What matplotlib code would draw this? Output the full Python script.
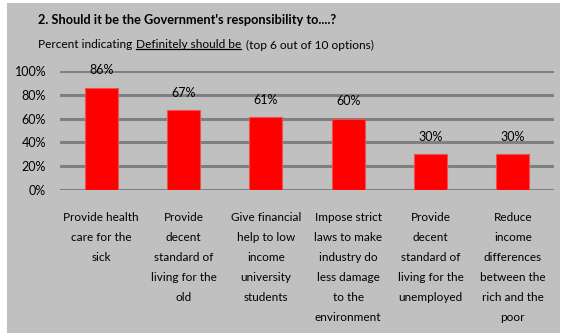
import matplotlib.pyplot as plt
from matplotlib.patches import Rectangle
from matplotlib.lines import Line2D

categories = [
    "Provide health\ncare for the\nsick",
    "Provide\ndecent\nstandard of\nliving for the\nold",
    "Give financial\nhelp to low\nincome\nuniversity\nstudents",
    "Impose strict\nlaws to make\nindustry do\nless damage\nto the\nenvironment",
    "Provide\ndecent\nstandard of\nliving for the\nunemployed",
    "Reduce\nincome\ndifferences\nbetween the\nrich and the\npoor",
]
values = [86, 67, 61, 60, 30, 30]
yticks = [0, 20, 40, 60, 80, 100]

plt.rcParams['font.family'] = ['Lato', 'DejaVu Sans']
bg = '#c0c0c0'

fig = plt.figure(figsize=(5.65, 3.33), dpi=100)
fig.patch.set_facecolor('white')
fig.patches.append(Rectangle((7 / 565, 0), 553 / 565, 330 / 333,
                             transform=fig.transFigure, facecolor=bg,
                             edgecolor='none', zorder=-10))

ax = fig.add_axes([60 / 565, 1 - 190 / 333, 494 / 565, 119 / 333])
ax.patch.set_alpha(0)

x = range(len(values))
ax.bar(x, values, width=0.4, color='#ff0000', edgecolor='#f05050',
       linewidth=0.8, zorder=3)
for xi, v in zip(x, values):
    ax.annotate(f"{v}%", (xi, v), xytext=(0, 12.5), textcoords='offset points',
                ha='center', va='center', fontsize=9, color='black', zorder=4)

ax.set_xlim(-0.5, len(values) - 0.5)
ax.set_ylim(0, 100)
ax.set_yticks(yticks)
ax.set_yticklabels([f"{t}%" for t in yticks], fontsize=9)
ax.yaxis.grid(True, color='#808080', linewidth=2.2, zorder=1)
ax.set_axisbelow(True)
ax.tick_params(axis='y', length=0, pad=10)
ax.tick_params(axis='x', length=0, pad=16)
ax.set_xticks(list(x))
ax.set_xticklabels(categories, fontsize=8.5, linespacing=2.0, va='top')
for s in ax.spines.values():
    s.set_visible(False)

# title and subtitle with the underlined phrase
fig.text(38 / 565, 1 - 20 / 333, "2. Should it be the Government's responsibility to....?",
         fontsize=9.2, fontweight='bold', va='center', ha='left')
sub_y = 1 - 45 / 333
t1 = fig.text(38 / 565, sub_y, "Percent indicating", fontsize=8.6, va='center')
fig.canvas.draw()
r = fig.canvas.get_renderer()
bb1 = t1.get_window_extent(r)
t2 = fig.text((bb1.x1 + 3.5) / 565, sub_y, "Definitely should be", fontsize=8.6, va='center')
bb2 = t2.get_window_extent(r)
t3 = fig.text((bb2.x1 + 4.5) / 565, sub_y, "(top 6 out of 10 options)", fontsize=8.6, va='center')
uy = (bb2.y0 + 1.5) / 333
fig.lines.append(Line2D([bb2.x0 / 565, bb2.x1 / 565], [uy, uy],
                        transform=fig.transFigure, color='black', linewidth=0.9))

fig.savefig('out.png', dpi=100, facecolor=fig.get_facecolor())
